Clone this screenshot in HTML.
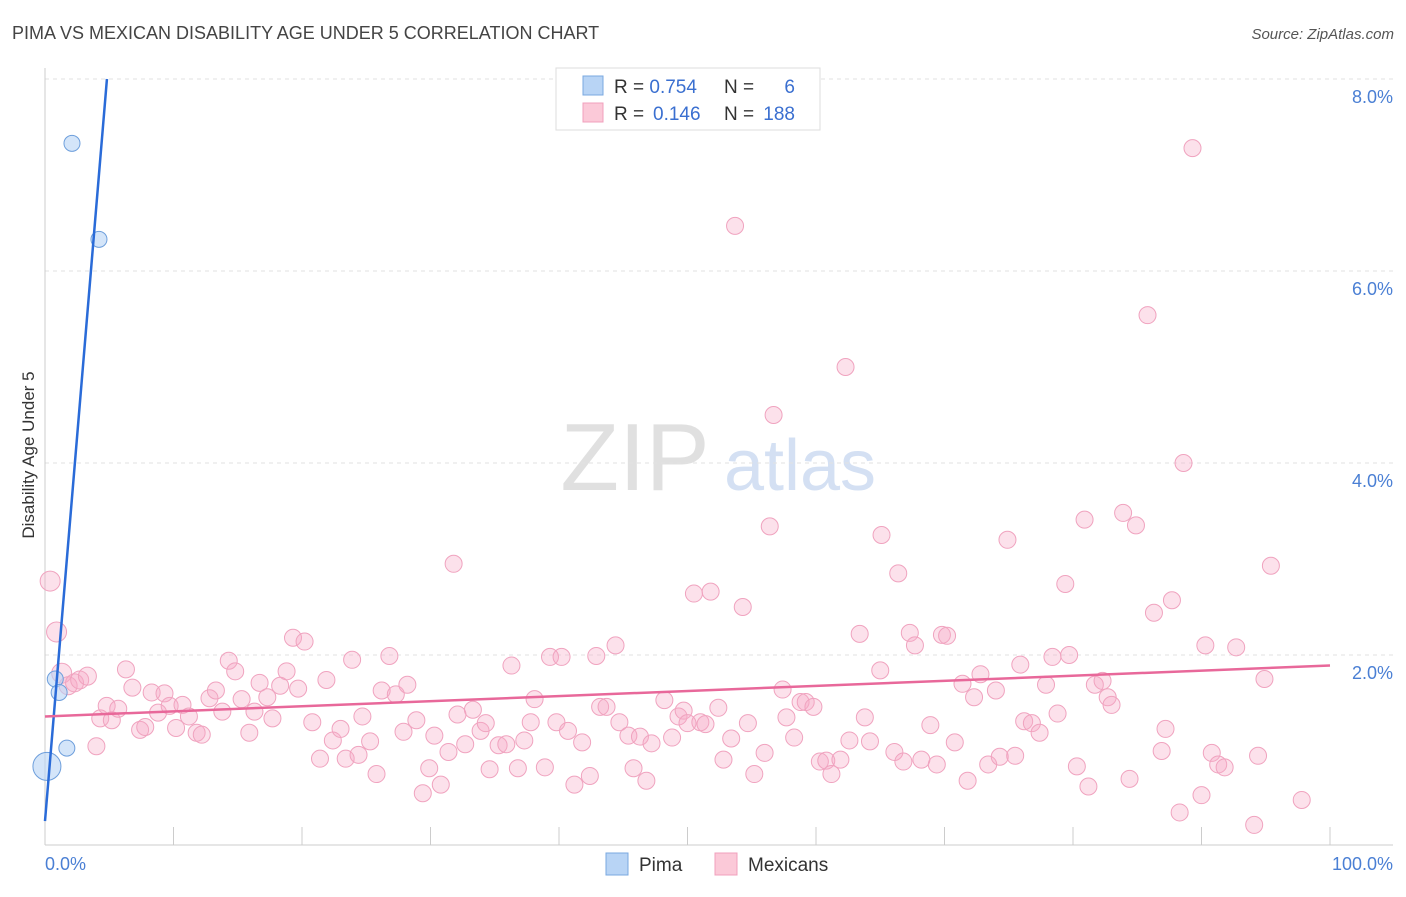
<!DOCTYPE html>
<html><head><meta charset="utf-8"><style>
body{margin:0;background:#fff;font-family:"Liberation Sans",sans-serif;}
svg text{font-family:"Liberation Sans",sans-serif;}
</style></head><body>
<svg id="chart" width="1406" height="892" xmlns="http://www.w3.org/2000/svg">
<text x="12" y="39" font-size="18" fill="#444">PIMA VS MEXICAN DISABILITY AGE UNDER 5 CORRELATION CHART</text>
<text x="1394" y="39" font-size="15" fill="#555" text-anchor="end" font-style="italic">Source: ZipAtlas.com</text>
<g>
<text x="635" y="490" font-size="96" fill="#d4d4d4" font-family="Liberation Serif" text-anchor="middle" opacity="0.7">ZIP</text>
<text x="800" y="490" font-size="72" fill="#b8cdec" text-anchor="middle" opacity="0.6">atlas</text>
</g>
<g id="grid"></g>
<g id="axes"></g>
<g id="pts"></g>
<g id="lines"></g>
<text x="34" y="455" font-size="17" fill="#333" text-anchor="middle" transform="rotate(-90 34 455)">Disability Age Under 5</text>
<g>
<rect x="556" y="68" width="264" height="62" fill="#fff" stroke="#ddd"/>
<rect x="583" y="76" width="20" height="19" fill="#b8d4f5" stroke="#7aa8e0"/>
<rect x="583" y="103" width="20" height="19" fill="#fbc9d8" stroke="#f0a0bc"/>
<text x="614" y="93" font-size="19" fill="#333">R = <tspan fill="#3a6fd0">0.754</tspan></text>
<text x="724" y="93" font-size="19" fill="#333">N = </text><text x="795" y="93" font-size="19" fill="#3a6fd0" text-anchor="end">6</text>
<text x="614" y="120" font-size="19" fill="#333">R = </text><text x="653" y="120" font-size="19" fill="#3a6fd0">0.146</text>
<text x="724" y="120" font-size="19" fill="#333">N = </text><text x="795" y="120" font-size="19" fill="#3a6fd0" text-anchor="end">188</text>
</g>
<g>
<rect x="606" y="853" width="22" height="22" fill="#b8d4f5" stroke="#7aa8e0"/>
<text x="639" y="871" font-size="19" fill="#333">Pima</text>
<rect x="715" y="853" width="22" height="22" fill="#fbc9d8" stroke="#f0a0bc"/>
<text x="748" y="871" font-size="19" fill="#333">Mexicans</text>
</g>
</svg>
<script>
const yTicks=[2,4,6,8];
const yTickLabels=["2.0%","4.0%","6.0%","8.0%"];
const xTickLabels=["0.0%","100.0%"];
const pimaX=[2.1,4.2,0.8,1.1,1.7,0.15];
const pimaY=[7.33,6.33,1.75,1.61,1.03,0.84];
const pimaR=[8,8,8,8,8,14];
const pimaLine=[[0,0.27],[4.82,8.0]];
const mexLine=[[0,1.36],[100,1.89]];
const mexX=[0.4,0.9,1.3,1.8,2.3,2.7,3.3,4.0,4.3,4.8,5.2,5.7,6.3,6.8,7.4,7.8,8.3,8.8,9.3,9.7,10.2,10.7,11.2,11.8,12.2,12.8,13.3,13.8,14.3,14.8,15.3,15.9,16.3,16.7,17.3,17.7,18.3,18.8,19.3,19.7,20.2,20.8,21.4,21.9,22.4,23.0,23.4,23.9,24.4,24.7,25.3,25.8,26.2,26.8,27.3,27.9,28.2,28.9,29.4,29.9,30.3,30.8,31.4,31.8,32.1,32.7,33.3,33.9,34.3,34.6,35.3,35.9,36.3,36.8,37.3,37.8,38.1,38.9,39.3,39.8,40.2,40.7,41.2,41.8,42.4,42.9,43.2,43.7,44.4,44.7,45.4,45.8,46.3,46.8,47.2,48.2,48.8,49.3,49.7,50.0,50.5,51.0,51.4,51.8,52.4,52.8,53.4,53.7,54.3,54.7,55.2,56.0,56.4,56.7,57.4,57.7,58.3,58.8,59.2,59.8,60.3,60.8,61.2,61.9,62.3,62.6,63.4,63.8,64.2,65.0,65.1,66.1,66.4,66.8,67.3,67.7,68.2,68.9,69.4,69.8,70.2,70.8,71.4,71.8,72.3,72.8,73.4,74.0,74.3,74.9,75.5,75.9,76.2,76.8,77.4,77.9,78.4,78.8,79.4,79.7,80.3,80.9,81.2,81.7,82.3,82.7,83.0,83.9,84.4,84.9,85.8,86.3,86.9,87.2,87.7,88.3,88.6,89.3,90.0,90.3,90.8,91.3,91.8,92.7,94.1,94.4,94.9,95.4,97.8];
const mexY=[2.77,2.24,1.81,1.68,1.71,1.74,1.78,1.05,1.34,1.47,1.32,1.44,1.85,1.66,1.22,1.25,1.61,1.40,1.60,1.47,1.24,1.48,1.36,1.19,1.17,1.55,1.63,1.41,1.94,1.83,1.54,1.19,1.41,1.71,1.56,1.34,1.68,1.83,2.18,1.65,2.14,1.30,0.92,1.74,1.11,1.23,0.92,1.95,0.96,1.36,1.10,0.76,1.63,1.99,1.59,1.20,1.69,1.32,0.56,0.82,1.16,0.65,0.99,2.95,1.38,1.07,1.43,1.21,1.29,0.81,1.06,1.07,1.89,0.82,1.11,1.30,1.54,0.83,1.98,1.30,1.98,1.21,0.65,1.09,0.74,1.99,1.46,1.46,2.10,1.30,1.16,0.82,1.15,0.69,1.08,1.53,1.14,1.36,1.42,1.29,2.64,1.30,1.28,2.66,1.45,0.91,1.13,6.47,2.50,1.29,0.76,0.98,3.34,4.50,1.64,1.35,1.14,1.51,1.51,1.46,0.89,0.90,0.76,0.91,5.00,1.11,2.22,1.35,1.10,1.84,3.25,0.99,2.85,0.89,2.23,2.10,0.91,1.27,0.86,2.21,2.20,1.09,1.70,0.69,1.56,1.80,0.86,1.63,0.94,3.20,0.95,1.90,1.31,1.29,1.19,1.69,1.98,1.39,2.74,2.00,0.84,3.41,0.63,1.69,1.73,1.56,1.48,3.48,0.71,3.35,5.54,2.44,1.00,1.23,2.57,0.36,4.00,7.28,0.54,2.10,0.98,0.86,0.83,2.08,0.23,0.95,1.75,2.93,0.49];
const X0=45,X1=1330,Y0=847,PY=96;
const sx=v=>X0+(X1-X0)*v/100, sy=v=>Y0-PY*v;
const NS="http://www.w3.org/2000/svg";
function mk(tag,attrs,parent){const e=document.createElementNS(NS,tag);for(const k in attrs)e.setAttribute(k,attrs[k]);parent.appendChild(e);return e;}
const grid=document.getElementById('grid'),axes=document.getElementById('axes'),pts=document.getElementById('pts'),lines=document.getElementById('lines');
yTicks.forEach((t,i)=>{
 const l=mk('line',{x1:X0,x2:1393,y1:sy(t),y2:sy(t),stroke:'#e2e2e2','stroke-dasharray':'4,4'},grid);
 
 
 const tx=mk('text',{x:1393,y:sy(t)+24,'font-size':18,fill:'#4a7fd4','text-anchor':'end'},axes);
 tx.textContent=yTickLabels[i];
 
 
});
mk('line',{x1:X0,x2:X0,y1:68,y2:845,stroke:'#ccc'},axes);
mk('line',{x1:X0,x2:1393,y1:845,y2:845,stroke:'#ccc'},axes);
for(let i=0;i<=10;i++){mk('line',{x1:sx(i*10),x2:sx(i*10),y1:827,y2:845,stroke:'#ccc'},axes);}
const xl0=mk('text',{x:X0,y:870,'font-size':18,fill:'#4a7fd4'},axes);xl0.textContent=xTickLabels[0];


const xl1=mk('text',{x:1393,y:870,'font-size':18,fill:'#4a7fd4','text-anchor':'end'},axes);xl1.textContent=xTickLabels[1];


mexX.forEach((x,i)=>{
 const r=x<4?(i<3?10:9):8.5;
 const c=mk('circle',{cx:sx(x),cy:sy(mexY[i]),r:r,fill:'rgba(246,170,198,0.35)',stroke:'#f0a3bf','stroke-width':1},pts);
 
 
});
pimaX.forEach((x,i)=>{
 const c=mk('circle',{cx:sx(x),cy:sy(pimaY[i]),r:pimaR[i],fill:'rgba(184,212,245,0.6)',stroke:'#6e9fdc','stroke-width':1},pts);
 
 
});
const pl=mk('line',{x1:sx(pimaLine[0][0]),y1:sy(pimaLine[0][1]),x2:sx(pimaLine[1][0]),y2:sy(pimaLine[1][1]),stroke:'#2a6bd8','stroke-width':2.5},lines);


const ml=mk('line',{x1:sx(mexLine[0][0]),y1:sy(mexLine[0][1]),x2:sx(mexLine[1][0]),y2:sy(mexLine[1][1]),stroke:'#e8689a','stroke-width':2.5},lines);


</script>
</body></html>
